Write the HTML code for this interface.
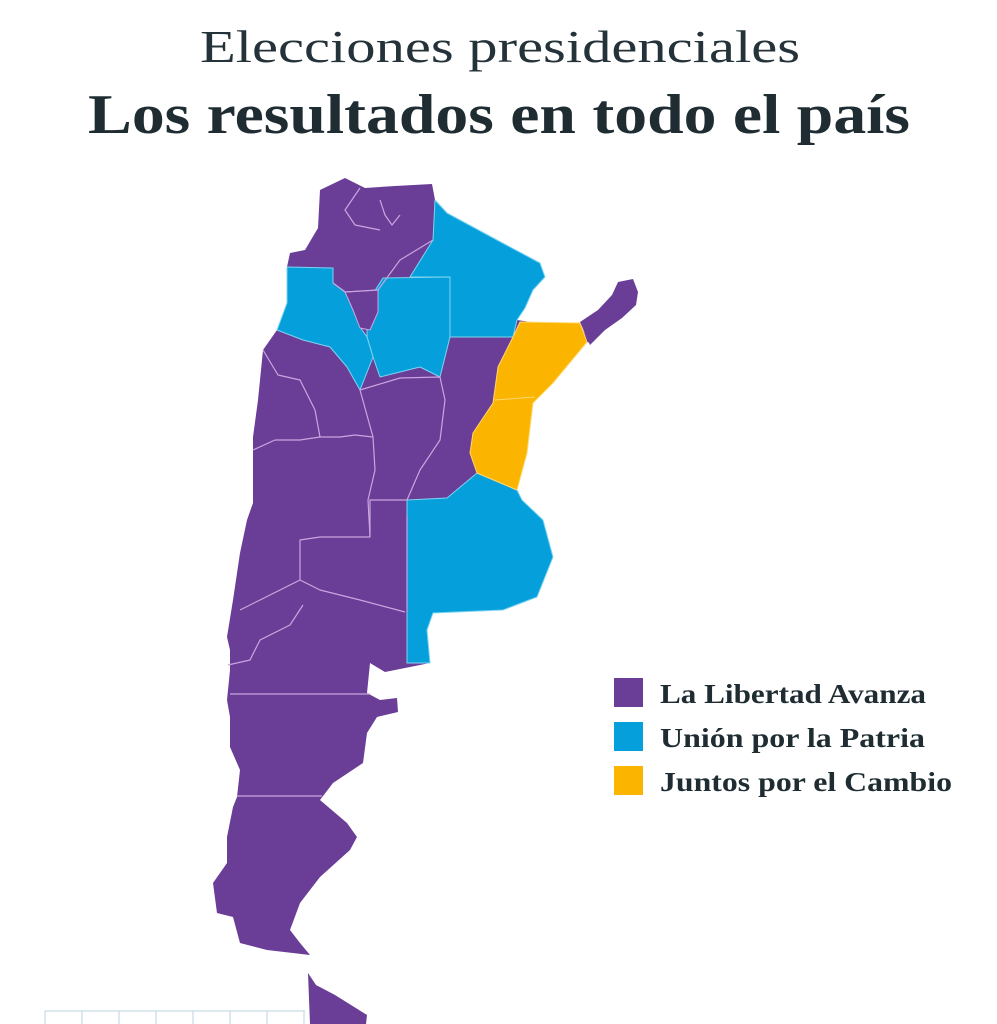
<!DOCTYPE html>
<html><head><meta charset="utf-8"><style>
html,body{margin:0;padding:0;background:#fff;width:997px;height:1024px;overflow:hidden}
</style></head><body>
<svg width="997" height="1024" viewBox="0 0 997 1024" xmlns="http://www.w3.org/2000/svg">
<rect width="997" height="1024" fill="#fff"/>
<text x="200" y="62" font-family="Liberation Serif, serif" font-size="46" fill="#24323a" textLength="600" lengthAdjust="spacingAndGlyphs">Elecciones presidenciales</text>
<text x="88" y="133" font-family="Liberation Serif, serif" font-weight="bold" font-size="56" fill="#1f2d33" textLength="822" lengthAdjust="spacingAndGlyphs">Los resultados en todo el país</text>

<g stroke-linejoin="round">
<polygon fill="#6a3d97" points="318,228 320,190 345,178 365,188 395,186 432,184 435,200 447,213 497,240 540,263 545,277 533,290 525,308 517,320 583,330 590,343 587,342 553,383 533,403 527,453 517,490 522,500 543,520 553,557 537,597 503,610 433,613 427,630 430,663 410,667 385,672 370,663 367,693 380,700 397,698 398,712 377,717 367,733 363,763 333,783 320,800 347,823 357,837 350,850 320,877 300,903 290,930 300,943 310,955 267,950 240,943 233,917 217,913 213,883 227,863 227,837 233,807 237,797 240,770 230,747 230,717 227,700 230,670 230,650 227,637 233,600 240,553 247,520 253,503 253,437 258,400 263,350 277,330 287,303 287,267 290,253 305,250"/>
<polygon fill="#6a3d97" points="580,322 598,310 612,295 618,282 633,279 638,292 636,305 622,318 605,330 590,345"/>
<polygon fill="#6a3d97" points="308,973 316,985 335,995 367,1015 366,1024 310,1024"/>
<polygon fill="#05a0dc" stroke="#7fd4f0" stroke-width="1" points="435,200 447,213 497,240 540,263 545,277 533,290 525,308 517,320 513,337 450,337 450,277 410,277 433,240"/>
<polygon fill="#05a0dc" stroke="#7fd4f0" stroke-width="1" points="383,278 450,277 450,337 440,377 420,367 380,377 373,357 367,337 367,303"/>
<polygon fill="#05a0dc" stroke="#7fd4f0" stroke-width="1" points="287,267 333,268 333,283 347,293 353,310 360,327 367,337 373,357 360,390 347,367 330,347 303,340 277,330 287,303"/>
<polygon fill="#6a3d97" stroke="#c9a6e0" stroke-width="1" points="345,292 378,290 378,312 370,330 360,328 353,310"/>
<polygon fill="#05a0dc" stroke="#7fd4f0" stroke-width="1" points="477,473 517,490 522,500 543,520 553,557 537,597 503,610 433,613 427,630 430,663 407,663 407,500 447,498"/>
<polygon fill="#fbb400" stroke="#ffd870" stroke-width="1" points="520,322 580,323 587,342 553,383 533,403 527,453 517,490 477,473 470,453 473,433 493,403 498,367 513,337"/>
<line x1="495" y1="400" x2="535" y2="397" stroke="#ffd870" stroke-width="1"/>
<g fill="none" stroke="#c9a6e0" stroke-width="1.2">
<polyline points="230,694 370,694"/>
<polyline points="237,796 322,796"/>
<polyline points="263,350 278,375 300,380 315,410 320,437 340,437 355,435"/>
<polyline points="253,450 275,440 300,440 320,437"/>
<polyline points="355,435 373,437 375,470 368,500 370,537 320,537 300,540 300,580 260,600 240,610"/>
<polyline points="300,580 320,590 360,600 405,612"/>
<polyline points="303,605 290,625 260,640 250,660 228,665"/>
<polyline points="373,437 360,390"/>
<polyline points="360,390 400,378 440,377 445,400 440,440 420,470 407,500"/>
<polyline points="407,500 370,500 370,537"/>
<polyline points="407,515 407,612"/>
<polyline points="360,188 345,210 355,225 380,230"/>
<polyline points="380,200 385,215 392,225 400,215"/>
<polyline points="333,283 345,292 378,290 400,260 433,240"/>
</g>
</g>
<g stroke="#b8d4e2" stroke-width="1" fill="none">
<line x1="45" y1="1011" x2="305" y2="1011"/>
<line x1="45" y1="1011" x2="45" y2="1024"/>
<line x1="82" y1="1011" x2="82" y2="1024"/>
<line x1="119" y1="1011" x2="119" y2="1024"/>
<line x1="156" y1="1011" x2="156" y2="1024"/>
<line x1="193" y1="1011" x2="193" y2="1024"/>
<line x1="230" y1="1011" x2="230" y2="1024"/>
<line x1="267" y1="1011" x2="267" y2="1024"/>
<line x1="304" y1="1011" x2="304" y2="1024"/>
</g>
<rect x="614" y="678" width="29" height="29" fill="#6a3d97"/>
<rect x="614" y="722" width="29" height="29" fill="#05a0dc"/>
<rect x="614" y="766" width="29" height="29" fill="#fbb400"/>
<g font-family="Liberation Serif, serif" font-weight="bold" font-size="27" fill="#1f2d33">
<text x="660" y="703" textLength="266" lengthAdjust="spacingAndGlyphs">La Libertad Avanza</text>
<text x="660" y="747" textLength="265" lengthAdjust="spacingAndGlyphs">Unión por la Patria</text>
<text x="660" y="791" textLength="292" lengthAdjust="spacingAndGlyphs">Juntos por el Cambio</text>
</g>
</svg>
</body></html>
